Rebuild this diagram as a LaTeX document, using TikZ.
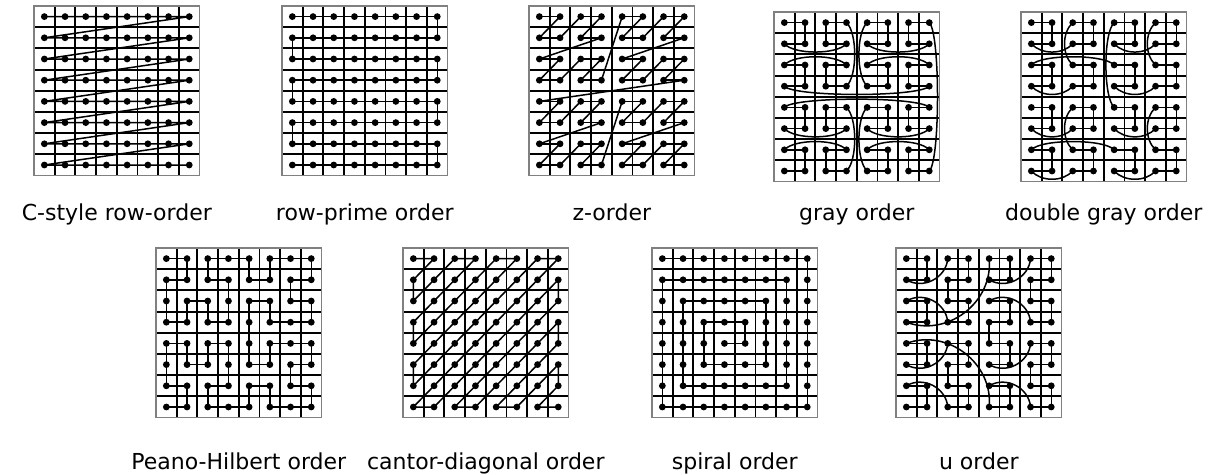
\documentclass[tikz,border=0pt]{standalone}
\usepackage{fontspec}
\setmainfont{DejaVu Sans}
\usetikzlibrary{calc}
\definecolor{bordergray}{RGB}{128,128,128}
\def\cw{20.7}
\def\ch{21.2}
\def\lka{10}
\def\lkb{11}
\def\lkk{0.42}
\def\lkt{58}
\tikzset{
  gline/.style={line width=1.9pt, black},
  gborder/.style={line width=1.4pt, draw=bordergray},
  conn/.style={line width=1.5pt, black, line cap=round, line join=round},
  lbl/.style={font=\fontsize{22}{26}\selectfont, anchor=base, inner sep=0pt},
}
\newcommand\mkgrid[3]{%
  \foreach \k in {1,...,7}{%
    \draw[gline] ({#2+\k*\cw},#3) -- ({#2+\k*\cw},{#3+8*\ch});
    \draw[gline] (#2,{#3+\k*\ch}) -- ({#2+8*\cw},{#3+\k*\ch});
  }%
  \draw[gborder] (#2,#3) rectangle ({#2+8*\cw},{#3+8*\ch});
  \foreach \i in {0,...,7}{\foreach \j in {0,...,7}{%
    \coordinate (#1-\i-\j) at ({#2+\cw*(\i+0.5)},{#3+\ch*(\j+0.5)});}}%
}
\newcommand\mkdots[1]{\foreach \i in {0,...,7}{\foreach \j in {0,...,7}{\fill (#1-\i-\j) circle (3.4pt);}}}
\newcommand\lnk[6]{%
  \pgfmathtruncatemacro\lkd{abs(#4-#2)+abs(#5-#3)}%
  \ifnum\lkd=1 \def\lkm{0}\else\def\lkm{#6}\fi
  \ifcase\lkm\relax
    \draw[conn] (#1-#2-#3) -- (#1-#4-#5);%
  \or
    \ifnum#3=#5\relax
      \pgfmathsetmacro\lksx{sign(#4-#2)*\lka}%
      \pgfmathsetmacro\lknx{-\lksx}%
      \pgfmathsetmacro\lksy{ifthenelse(mod(#3,2)==1,1,-1)*\lkb}%
      \draw[conn] (#1-#2-#3) .. controls ($(#1-#2-#3)+(\lksx,\lksy)$) and ($(#1-#4-#5)+(\lknx,\lksy)$) .. (#1-#4-#5);%
    \else
      \pgfmathsetmacro\lksy{sign(#5-#3)*\lka}%
      \pgfmathsetmacro\lkny{-\lksy}%
      \pgfmathsetmacro\lksx{ifthenelse(mod(#2,2)==1,1,-1)*\lkb}%
      \draw[conn] (#1-#2-#3) .. controls ($(#1-#2-#3)+(\lksx,\lksy)$) and ($(#1-#4-#5)+(\lksx,\lkny)$) .. (#1-#4-#5);%
    \fi
  \or
    \pgfmathsetmacro\lkdx{(#4-#2)*\cw}%
    \pgfmathsetmacro\lkdy{(#5-#3)*\ch}%
    \pgfmathsetmacro\lkax{\lkk*(cos(\lkt)*\lkdx-sin(\lkt)*\lkdy)}%
    \pgfmathsetmacro\lkay{\lkk*(cos(\lkt)*\lkdy+sin(\lkt)*\lkdx)}%
    \pgfmathsetmacro\lkbx{\lkk*(-cos(\lkt)*\lkdx-sin(\lkt)*\lkdy)}%
    \pgfmathsetmacro\lkby{\lkk*(-cos(\lkt)*\lkdy+sin(\lkt)*\lkdx)}%
    \draw[conn] (#1-#2-#3) .. controls ($(#1-#2-#3)+(\lkax,\lkay)$) and ($(#1-#4-#5)+(\lkbx,\lkby)$) .. (#1-#4-#5);%
  \fi}
\newcommand\runlist[3]{%
  \gdef\prevI{-1}\gdef\prevJ{-1}%
  \foreach \ci/\cj in {#3}{%
    \ifnum\prevI>-1 \edef\tmp{\noexpand\lnk{#1}{\prevI}{\prevJ}{\ci}{\cj}{#2}}\tmp\fi
    \xdef\prevI{\ci}\xdef\prevJ{\cj}}}
\newcommand\runformula[4]{%
  \gdef\prevI{-1}\gdef\prevJ{-1}%
  \foreach \n in {0,...,63}{%
    \pgfmathtruncatemacro\ci{#3}%
    \pgfmathtruncatemacro\cj{#4}%
    \ifnum\prevI>-1 \edef\tmp{\noexpand\lnk{#1}{\prevI}{\prevJ}{\ci}{\cj}{#2}}\tmp\fi
    \xdef\prevI{\ci}\xdef\prevJ{\cj}}}
\begin{document}
\begin{tikzpicture}[x=1pt,y=-1pt]
\useasboundingbox (0,0) rectangle (1217,474);
% ---------- C-style row-order
\mkgrid{ca}{34}{6}
\draw[conn] (ca-0-0) -- (ca-7-0) -- (ca-0-1) -- (ca-7-1) -- (ca-0-2) -- (ca-7-2) -- (ca-0-3) -- (ca-7-3)
  -- (ca-0-4) -- (ca-7-4) -- (ca-0-5) -- (ca-7-5) -- (ca-0-6) -- (ca-7-6) -- (ca-0-7) -- (ca-7-7);
\mkdots{ca}
\node[lbl] (lca) at (116.8,220) {C-style row-order};
% ---------- row-prime
\mkgrid{rp}{282}{6}
\draw[conn] (rp-0-0) -- (rp-7-0) -- (rp-7-1) -- (rp-0-1) -- (rp-0-2) -- (rp-7-2) -- (rp-7-3) -- (rp-0-3)
  -- (rp-0-4) -- (rp-7-4) -- (rp-7-5) -- (rp-0-5) -- (rp-0-6) -- (rp-7-6) -- (rp-7-7) -- (rp-0-7);
\mkdots{rp}
\node[lbl] (lrp) at (364.8,220) {row-prime order};
% ---------- z-order
\mkgrid{zo}{529}{6}
\runformula{zo}{0}{mod(\n,2)+2*mod(floor(\n/4),2)+4*mod(floor(\n/16),2)}{mod(floor(\n/2),2)+2*mod(floor(\n/8),2)+4*mod(floor(\n/32),2)}
\mkdots{zo}
\node[lbl] (lzo) at (611.8,220) {z-order};
% ---------- gray order
\mkgrid{gr}{774}{12}
\runlist{gr}{1}{0/0,1/0,1/1,0/1,3/1,2/1,2/0,3/0,3/3,2/3,2/2,3/2,0/2,1/2,1/3,0/3,7/3,6/3,6/2,7/2,4/2,5/2,5/3,4/3,4/0,5/0,5/1,4/1,7/1,6/1,6/0,7/0,7/7,6/7,6/6,7/6,4/6,5/6,5/7,4/7,4/4,5/4,5/5,4/5,7/5,6/5,6/4,7/4,0/4,1/4,1/5,0/5,3/5,2/5,2/4,3/4,3/7,2/7,2/6,3/6,0/6,1/6,1/7,0/7}
\mkdots{gr}
\node[lbl] (lgr) at (856.8,220) {gray order};
% ---------- double gray order
\mkgrid{dg}{1021}{12}
\runlist{dg}{1}{0/0,1/0,1/1,0/1,2/1,3/1,3/0,2/0,2/2,3/2,3/3,2/3,0/3,1/3,1/2,0/2,4/2,5/2,5/3,4/3,6/3,7/3,7/2,6/2,6/0,7/0,7/1,6/1,4/1,5/1,5/0,4/0,4/4,5/4,5/5,4/5,6/5,7/5,7/4,6/4,6/6,7/6,7/7,6/7,4/7,5/7,5/6,4/6,0/6,1/6,1/7,0/7,2/7,3/7,3/6,2/6,2/4,3/4,3/5,2/5,0/5,1/5,1/4,0/4}
\mkdots{dg}
\node[lbl] (ldg) at (1103.8,220) {double gray order};
% ---------- Peano-Hilbert
\mkgrid{ph}{156}{248}
\runlist{ph}{0}{0/0,1/0,1/1,0/1,0/2,0/3,1/3,1/2,2/2,2/3,3/3,3/2,3/1,2/1,2/0,3/0,4/0,4/1,5/1,5/0,6/0,7/0,7/1,6/1,6/2,7/2,7/3,6/3,5/3,5/2,4/2,4/3,4/4,4/5,5/5,5/4,6/4,7/4,7/5,6/5,6/6,7/6,7/7,6/7,5/7,5/6,4/6,4/7,3/7,2/7,2/6,3/6,3/5,3/4,2/4,2/5,1/5,1/4,0/4,0/5,0/6,1/6,1/7,0/7}
\mkdots{ph}
\node[lbl] (lph) at (238.8,469) {Peano-Hilbert order};
% ---------- cantor-diagonal
\mkgrid{cd}{403}{248}
\draw[conn] (cd-0-0) -- (cd-1-0) -- (cd-0-1) -- (cd-0-2) -- (cd-2-0) -- (cd-3-0) -- (cd-0-3) -- (cd-0-4) -- (cd-4-0)
  -- (cd-5-0) -- (cd-0-5) -- (cd-0-6) -- (cd-6-0) -- (cd-7-0) -- (cd-0-7) -- (cd-1-7) -- (cd-7-1) -- (cd-7-2)
  -- (cd-2-7) -- (cd-3-7) -- (cd-7-3) -- (cd-7-4) -- (cd-4-7) -- (cd-5-7) -- (cd-7-5) -- (cd-7-6) -- (cd-6-7) -- (cd-7-7);
\mkdots{cd}
\node[lbl] (lcd) at (485.8,469) {cantor-diagonal order};
% ---------- spiral
\mkgrid{sp}{652}{248}
\draw[conn] (sp-0-0) -- (sp-7-0) -- (sp-7-7) -- (sp-0-7) -- (sp-0-1) -- (sp-6-1) -- (sp-6-6) -- (sp-1-6) -- (sp-1-2)
  -- (sp-5-2) -- (sp-5-5) -- (sp-2-5) -- (sp-2-3) -- (sp-4-3) -- (sp-4-4) -- (sp-3-4);
\mkdots{sp}
\node[lbl] (lsp) at (734.8,469) {spiral order};
% ---------- u order
\mkgrid{uo}{896}{248}
\runformula{uo}{2}{(mod(mod(\n,4),3)>0)+2*(mod(mod(floor(\n/4),4),3)>0)+4*(mod(floor(\n/16),3)>0)}{(mod(\n,4)>1)+2*(mod(floor(\n/4),4)>1)+4*(floor(\n/16)>1)}
\mkdots{uo}
\node[lbl] (luo) at (978.8,469) {u order};
\end{tikzpicture}
\end{document}
